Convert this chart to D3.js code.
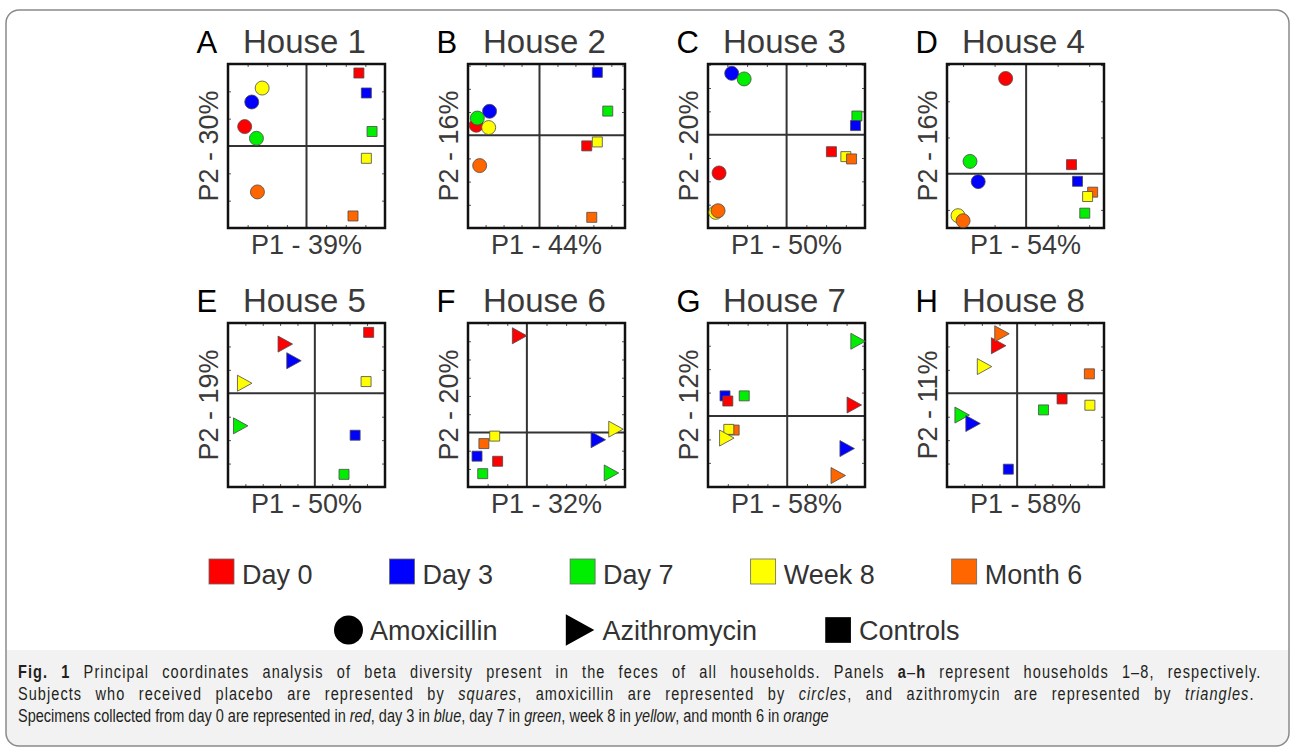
<!DOCTYPE html>
<html>
<head>
<meta charset="utf-8">
<script src="https://cdn.jsdelivr.net/npm/d3@7"></script>
<style>
  body { margin: 0; background: #fff; }
  svg { display: block; font-family: 'Liberation Sans', Arial, sans-serif; }
</style>
</head>
<body>
<svg width="1296" height="748"></svg>
<script>
const width = 1296;
const height = 748;

// panel titles and axis labels
const letters = ['A', 'B', 'C', 'D', 'E', 'F', 'G', 'H'];
const houses = ['House 1', 'House 2', 'House 3', 'House 4', 'House 5', 'House 6', 'House 7', 'House 8'];
const p1Labels = ['P1 - 39%', 'P1 - 44%', 'P1 - 50%', 'P1 - 54%', 'P1 - 50%', 'P1 - 32%', 'P1 - 58%', 'P1 - 58%'];
const p2Labels = ['P2 - 30%', 'P2 - 16%', 'P2 - 20%', 'P2 - 16%', 'P2 - 19%', 'P2 - 20%', 'P2 - 12%', 'P2 - 11%'];

// visible extent of each panel (P1 and P2 coordinates)
const p1Domains = [[-0.4, 0.4], [-0.398, 0.476], [-0.398, 0.397], [-0.251, 0.247],
                   [-0.5, 0.404], [-0.3, 0.5], [-0.4, 0.393], [-0.398, 0.493]];
const p2Domains = [[-0.3, 0.3], [-0.4, 0.307], [-0.4, 0.303], [-0.15, 0.303],
                   [-0.4, 0.3], [-0.299, 0.6], [-0.303, 0.397], [-0.4, 0.3]];

const days = ['Day 0', 'Day 3', 'Day 7', 'Week 8', 'Month 6'];
const treatments = ['Amoxicillin', 'Azithromycin', 'Controls'];

// [day, treatment, P1, P2] -- drawn in this order
const house1 = [
  ['Day 0', 'Amoxicillin', -0.315, 0.071],
  ['Day 3', 'Amoxicillin', -0.279, 0.161],
  ['Day 7', 'Amoxicillin', -0.255, 0.028],
  ['Week 8', 'Amoxicillin', -0.226, 0.212],
  ['Month 6', 'Amoxicillin', -0.250, -0.168],
  ['Day 0', 'Controls', 0.267, 0.267],
  ['Day 3', 'Controls', 0.305, 0.194],
  ['Day 7', 'Controls', 0.334, 0.053],
  ['Week 8', 'Controls', 0.305, -0.045],
  ['Month 6', 'Controls', 0.237, -0.256],
];
const house2 = [
  ['Day 0', 'Amoxicillin', -0.352, 0.043],
  ['Day 3', 'Amoxicillin', -0.278, 0.103],
  ['Day 7', 'Amoxicillin', -0.346, 0.074],
  ['Week 8', 'Amoxicillin', -0.283, 0.033],
  ['Month 6', 'Amoxicillin', -0.333, -0.131],
  ['Day 0', 'Controls', 0.263, -0.046],
  ['Day 3', 'Controls', 0.322, 0.271],
  ['Day 7', 'Controls', 0.380, 0.104],
  ['Week 8', 'Controls', 0.322, -0.029],
  ['Month 6', 'Controls', 0.291, -0.354],
];
const house3 = [
  ['Day 0', 'Amoxicillin', -0.342, -0.164],
  ['Day 3', 'Amoxicillin', -0.278, 0.263],
  ['Day 7', 'Amoxicillin', -0.215, 0.239],
  ['Week 8', 'Amoxicillin', -0.359, -0.333],
  ['Month 6', 'Amoxicillin', -0.347, -0.326],
  ['Day 0', 'Controls', 0.227, -0.073],
  ['Day 7', 'Controls', 0.356, 0.080],
  ['Day 3', 'Controls', 0.349, 0.039],
  ['Week 8', 'Controls', 0.300, -0.094],
  ['Month 6', 'Controls', 0.329, -0.104],
];
const house4 = [
  ['Day 0', 'Amoxicillin', -0.065, 0.263],
  ['Day 3', 'Amoxicillin', -0.152, -0.022],
  ['Day 7', 'Amoxicillin', -0.178, 0.034],
  ['Week 8', 'Amoxicillin', -0.216, -0.116],
  ['Month 6', 'Amoxicillin', -0.200, -0.130],
  ['Day 0', 'Controls', 0.144, 0.025],
  ['Day 3', 'Controls', 0.163, -0.021],
  ['Day 7', 'Controls', 0.186, -0.109],
  ['Month 6', 'Controls', 0.211, -0.051],
  ['Week 8', 'Controls', 0.195, -0.063],
];
const house5 = [
  ['Day 0', 'Azithromycin', -0.170, 0.210],
  ['Day 3', 'Azithromycin', -0.120, 0.139],
  ['Day 7', 'Azithromycin', -0.427, -0.139],
  ['Week 8', 'Azithromycin', -0.404, 0.043],
  ['Day 0', 'Controls', 0.310, 0.260],
  ['Day 3', 'Controls', 0.232, -0.179],
  ['Day 7', 'Controls', 0.168, -0.346],
  ['Week 8', 'Controls', 0.295, 0.050],
];
const house6 = [
  ['Day 0', 'Azithromycin', -0.037, 0.530],
  ['Day 3', 'Azithromycin', 0.364, -0.040],
  ['Day 7', 'Azithromycin', 0.431, -0.222],
  ['Week 8', 'Azithromycin', 0.454, 0.018],
  ['Day 0', 'Controls', -0.149, -0.158],
  ['Day 3', 'Controls', -0.254, -0.130],
  ['Day 7', 'Controls', -0.225, -0.226],
  ['Week 8', 'Controls', -0.164, -0.020],
  ['Month 6', 'Controls', -0.219, -0.061],
];
const house7 = [
  ['Day 3', 'Controls', -0.314, 0.086],
  ['Day 0', 'Controls', -0.300, 0.064],
  ['Day 7', 'Controls', -0.217, 0.086],
  ['Month 6', 'Controls', -0.268, -0.060],
  ['Week 8', 'Controls', -0.295, -0.057],
  ['Day 0', 'Azithromycin', 0.339, 0.047],
  ['Day 3', 'Azithromycin', 0.303, -0.139],
  ['Day 7', 'Azithromycin', 0.358, 0.319],
  ['Week 8', 'Azithromycin', -0.305, -0.094],
  ['Month 6', 'Azithromycin', 0.258, -0.254],
];
const house8 = [
  ['Day 0', 'Azithromycin', -0.105, 0.203],
  ['Day 7', 'Azithromycin', -0.312, -0.093],
  ['Day 3', 'Azithromycin', -0.250, -0.129],
  ['Week 8', 'Azithromycin', -0.185, 0.114],
  ['Month 6', 'Azithromycin', -0.086, 0.254],
  ['Day 0', 'Controls', 0.255, -0.024],
  ['Day 3', 'Controls', -0.050, -0.324],
  ['Day 7', 'Controls', 0.150, -0.071],
  ['Week 8', 'Controls', 0.413, -0.051],
  ['Month 6', 'Controls', 0.410, 0.083],
];
const houseData = [house1, house2, house3, house4, house5, house6, house7, house8];

const dayColors = ['#ff0000', '#0000ff', '#00ee00', '#ffff00', '#ff6600'];
const color = d3.scaleOrdinal().domain(days).range(dayColors);

const svg = d3.select('svg');

// figure frame with grey caption strip
const frame = { x: 6, y: 10, w: 1283, h: 736, r: 13 };
svg.append('clipPath').attr('id', 'frameClip')
  .append('rect')
    .attr('x', frame.x).attr('y', frame.y)
    .attr('width', frame.w).attr('height', frame.h)
    .attr('rx', frame.r);
svg.append('rect')
  .attr('x', frame.x).attr('y', 650)
  .attr('width', frame.w).attr('height', 100)
  .attr('fill', '#f2f2f2')
  .attr('clip-path', 'url(#frameClip)');
svg.append('rect')
  .attr('x', frame.x).attr('y', frame.y)
  .attr('width', frame.w).attr('height', frame.h)
  .attr('rx', frame.r)
  .attr('fill', 'none')
  .attr('stroke', '#8a8a8a')
  .attr('stroke-width', 1.5);

// marker shapes
const triangleRight = {
  draw(context, size) {
    const w = Math.sqrt(size) * 0.95, h = Math.sqrt(size) * 1.05;
    context.moveTo(-w / 2, -h / 2);
    context.lineTo(w / 2, 0);
    context.lineTo(-w / 2, h / 2);
    context.closePath();
  }
};
const shapeOf = { Amoxicillin: d3.symbolCircle, Azithromycin: triangleRight, Controls: d3.symbolSquare };
const sizeOf = { Amoxicillin: 154, Azithromycin: 232, Controls: 100 };

const cols = [228, 468, 708, 947];
const rows = [64, 323];
const boxW = 157;
const boxH = 164;

const tickSteps = ([lo, hi]) =>
  d3.range(Math.ceil(lo * 10 + 1e-6), Math.floor(hi * 10 - 1e-6) + 1)
    .filter(k => k !== 0)
    .map(k => k / 10);

houseData.forEach((points, i) => {
  const left = cols[i % 4];
  const top = rows[Math.floor(i / 4)];
  const x = d3.scaleLinear().domain(p1Domains[i]).range([0, boxW]);
  const y = d3.scaleLinear().domain(p2Domains[i]).range([boxH, 0]);

  const g = svg.append('g').attr('transform', `translate(${left},${top})`);

  // titles
  g.append('text')
    .attr('x', boxW / 2 - 110).attr('y', -11)
    .attr('font-size', 31).attr('fill', '#000')
    .text(letters[i]);
  g.append('text')
    .attr('x', boxW / 2 - 2).attr('y', -11)
    .attr('text-anchor', 'middle')
    .attr('font-size', 33).attr('fill', '#3a3a3a')
    .text(houses[i]);

  // axis labels
  g.append('text')
    .attr('x', boxW / 2).attr('y', boxH + 26)
    .attr('text-anchor', 'middle')
    .attr('font-size', 27).attr('fill', '#3a3a3a')
    .text(p1Labels[i]);
  g.append('text')
    .attr('transform', `translate(-10,${boxH / 2}) rotate(-90)`)
    .attr('text-anchor', 'middle')
    .attr('font-size', 27).attr('fill', '#3a3a3a')
    .text(p2Labels[i]);

  // inward ticks on all four sides
  const xt = tickSteps(p1Domains[i]);
  const yt = tickSteps(p2Domains[i]);
  const tickStyle = a => {
    a.select('.domain').remove();
    a.selectAll('line').attr('stroke', '#555').attr('stroke-width', 1);
  };
  g.append('g').call(d3.axisTop(x).tickValues(xt).tickSize(-3).tickFormat('')).call(tickStyle);
  g.append('g').attr('transform', `translate(0,${boxH})`)
    .call(d3.axisBottom(x).tickValues(xt).tickSize(-3).tickFormat('')).call(tickStyle);
  g.append('g').call(d3.axisLeft(y).tickValues(yt).tickSize(-3).tickFormat('')).call(tickStyle);
  g.append('g').attr('transform', `translate(${boxW},0)`)
    .call(d3.axisRight(y).tickValues(yt).tickSize(-3).tickFormat('')).call(tickStyle);

  // zero lines
  g.append('line')
    .attr('x1', x(0)).attr('x2', x(0)).attr('y1', 0).attr('y2', boxH)
    .attr('stroke', '#333').attr('stroke-width', 2);
  g.append('line')
    .attr('x1', 0).attr('x2', boxW).attr('y1', y(0)).attr('y2', y(0))
    .attr('stroke', '#333').attr('stroke-width', 2);

  g.append('rect')
    .attr('width', boxW).attr('height', boxH)
    .attr('fill', 'none')
    .attr('stroke', '#111').attr('stroke-width', 2.5);

  g.selectAll('path.pt')
    .data(points)
    .enter()
    .append('path')
      .attr('class', 'pt')
      .attr('transform', d => `translate(${x(d[2])},${y(d[3])})`)
      .attr('d', d => d3.symbol(shapeOf[d[1]], sizeOf[d[1]])())
      .attr('fill', d => color(d[0]))
      .attr('stroke', '#4a4a4a')
      .attr('stroke-width', 0.8);
});

// legend: colours
let lx = 209;
days.forEach(day => {
  svg.append('rect')
    .attr('x', lx).attr('y', 559)
    .attr('width', 25).attr('height', 25)
    .attr('fill', color(day))
    .attr('stroke', '#666').attr('stroke-width', 0.8);
  const t = svg.append('text')
    .attr('x', lx + 33).attr('y', 584)
    .attr('font-size', 27).attr('fill', '#333')
    .text(day);
  lx += 33 + t.node().getComputedTextLength() + 77;
});

// legend: shapes
const legendShapes = { Amoxicillin: 660, Azithromycin: 900, Controls: 660 };
let sx = 335;
treatments.forEach(tr => {
  const sw = tr === 'Amoxicillin' ? 27 : tr === 'Azithromycin' ? 29 : 26;
  svg.append('path')
    .attr('transform', `translate(${sx + sw / 2},630)`)
    .attr('d', d3.symbol(shapeOf[tr], legendShapes[tr])())
    .attr('fill', '#000');
  const t = svg.append('text')
    .attr('x', sx + sw + 8).attr('y', 640)
    .attr('font-size', 27).attr('fill', '#333')
    .text(tr);
  sx += sw + 8 + t.node().getComputedTextLength() + 68;
});

// caption (justified paragraph: first two lines stretched, last line natural)
const captionLines = [
  [['Fig. 1', 'b'], [' Principal coordinates analysis of beta diversity present in the feces of all households. Panels ', ''],
   ['a', 'b'], ['–', ''], ['h', 'b'], [' represent households 1–8, respectively.', '']],
  [['Subjects who received placebo are represented by ', ''], ['squares', 'i'], [', amoxicillin are represented by ', ''],
   ['circles', 'i'], [', and azithromycin are represented by ', ''], ['triangles', 'i'], ['.', '']],
  [['Specimens collected from day 0 are represented in ', ''], ['red', 'i'], [', day 3 in ', ''], ['blue', 'i'],
   [', day 7 in ', ''], ['green', 'i'], [', week 8 in ', ''], ['yellow', 'i'], [', and month 6 in ', ''], ['orange', 'i']],
];
const captionWidths = [1244, 1237, 811];
const captionY = [678, 700, 722];

const captionNodes = captionLines.map(line => {
  const t = svg.append('text')
    .attr('font-size', 18.5)
    .attr('fill', '#231f20');
  line.forEach(([s, st]) => {
    t.append('tspan')
      .attr('font-weight', st === 'b' ? 'bold' : null)
      .attr('font-style', st === 'i' ? 'italic' : null)
      .text(s);
  });
  return t;
});
const squeeze = captionWidths[2] / captionNodes[2].node().getComputedTextLength();
captionNodes.forEach((t, i) => {
  if (i < 2) {
    const str = captionLines[i].map(p => p[0]).join('');
    const spaces = str.split(' ').length - 1;
    const extra = captionWidths[i] / squeeze - t.node().getComputedTextLength();
    // spread the stretch over letters and word gaps
    t.attr('letter-spacing', 0.5 * extra / str.length)
     .attr('word-spacing', 0.5 * extra / spaces);
  }
  t.attr('transform', `translate(18,${captionY[i]}) scale(${squeeze},1)`);
});
</script>
</body>
</html>
